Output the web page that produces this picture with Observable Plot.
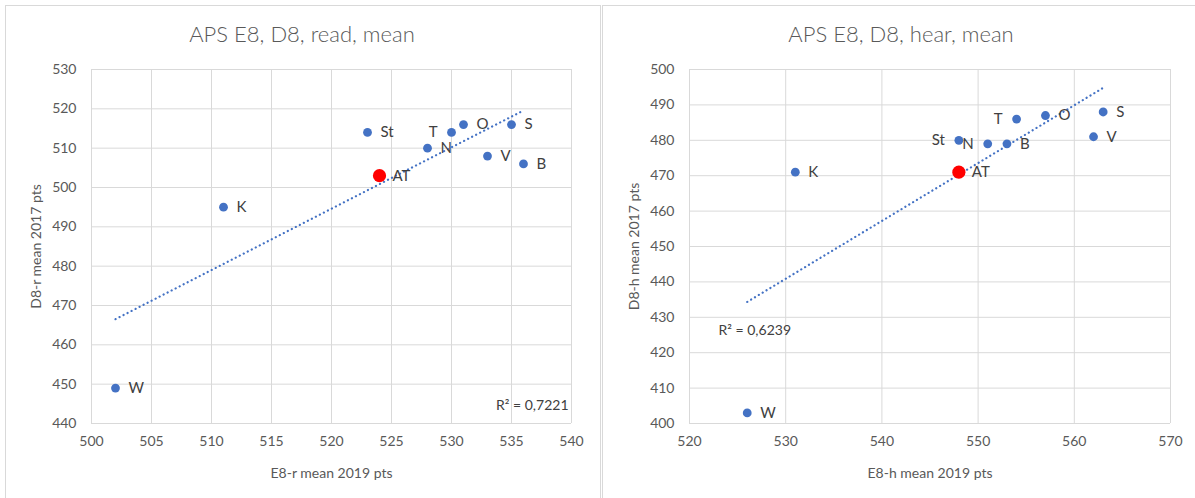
<!DOCTYPE html>
<html>
<head>
<meta charset="utf-8">
<script src="https://cdn.jsdelivr.net/npm/d3@7"></script>
<script src="https://cdn.jsdelivr.net/npm/@observablehq/plot@0.6"></script>
<style>
  html, body { margin: 0; padding: 0; background: #fff; }
  #root { position: relative; width: 1195px; height: 498px; overflow: hidden; font-family: Lato, "Open Sans", sans-serif; }
  .panel { position: absolute; top: 5px; height: 520px; border: 1px solid #d9d9d9; box-sizing: border-box; }
  .title { position: absolute; top: 20px; font-size: 22px; color: #595959; transform: translateX(-50%); white-space: nowrap; font-weight: 300; }
  .chart { position: absolute; top: 0; }
</style>
</head>
<body>
<div id="root">
  <div class="panel" style="left:5px; width:596px;"></div>
  <div class="panel" style="left:602px; width:600px;"></div>
  <div class="title" style="left:302px;">APS E8, D8, read, mean</div>
  <div class="title" style="left:901px;">APS E8, D8, hear, mean</div>
  <div class="chart" id="left" style="left:0px;"></div>
  <div class="chart" id="right" style="left:598px;"></div>
</div>
<script>
// ---- data ----
const regions      = ["St", "N", "T", "O", "S", "V", "B", "K", "W", "AT"];
const readE8_2019  = [523, 528, 530, 531, 535, 533, 536, 511, 502, 524];
const readD8_2017  = [514, 510, 514, 516, 516, 508, 506, 495, 449, 503];
const hearE8_2019  = [548, 551, 554, 557, 563, 562, 553, 531, 526, 548];
const hearD8_2017  = [480, 479, 486, 487, 488, 481, 479, 471, 403, 471];
const totalRegion  = "AT";

const readXTicks = [500, 505, 510, 515, 520, 525, 530, 535, 540];
const readYTicks = [440, 450, 460, 470, 480, 490, 500, 510, 520, 530];
const hearXTicks = [520, 530, 540, 550, 560, 570];
const hearYTicks = [400, 410, 420, 430, 440, 450, 460, 470, 480, 490, 500];

const readLabelsLeft = ["T"];
const hearLabelsLeft = ["St", "N", "T"];

const readR2 = "R² = 0,7221";
const hearR2 = "R² = 0,6239";
const readXLabel = "E8-r mean 2019 pts";
const readYLabel = "D8-r mean 2017 pts";
const hearXLabel = "E8-h mean 2019 pts";
const hearYLabel = "D8-h mean 2017 pts";

// ---- drawing ----
const BLUE = "#4472C4";
const RED = "#FF0000";
const GRID = "#d9d9d9";

function chart({xs, ys, xTicks, yTicks, leftLabels, r2, r2Anchor, r2dx, r2dy, xLabel, yLabel, width, marginRight}) {
  const rows = regions.map((r, i) => ({region: r, x: xs[i], y: ys[i]}));
  const states = rows.filter(d => d.region !== totalRegion);
  const total = rows.filter(d => d.region === totalRegion);
  return Plot.plot({
    width, height: 498,
    marginLeft: 91, marginRight, marginTop: 69, marginBottom: 75,
    style: {fontFamily: "Lato, 'Open Sans', sans-serif", fontSize: "14px", color: "#595959", background: "transparent", overflow: "visible"},
    x: {domain: [xTicks[0], xTicks[xTicks.length - 1]], ticks: xTicks},
    y: {domain: [yTicks[0], yTicks[yTicks.length - 1]], ticks: yTicks},
    marks: [
      Plot.gridX(xTicks, {stroke: GRID, strokeOpacity: 1}),
      Plot.gridY(yTicks, {stroke: GRID, strokeOpacity: 1}),
      Plot.axisX(xTicks, {tickSize: 0, tickPadding: 13, fontSize: 14, label: xLabel, labelAnchor: "center", labelArrow: "none", labelOffset: 54}),
      Plot.axisY(yTicks, {tickSize: 0, tickPadding: 15, fontSize: 14, label: yLabel, labelAnchor: "center", labelArrow: "none", labelOffset: 60}),
      Plot.linearRegressionY(states, {x: "x", y: "y", ci: 0, stroke: BLUE, strokeWidth: 2.2, strokeDasharray: "0.1 4.4", strokeLinecap: "round"}),
      Plot.dot(states, {x: "x", y: "y", r: 4.4, fill: BLUE}),
      Plot.dot(total, {x: "x", y: "y", r: 6.6, fill: RED}),
      Plot.text(rows.filter(d => !leftLabels.includes(d.region)), {x: "x", y: "y", text: "region", textAnchor: "start", dx: 13, fill: "#404040", fontSize: 15}),
      Plot.text(rows.filter(d => leftLabels.includes(d.region)), {x: "x", y: "y", text: "region", textAnchor: "end", dx: -14, fill: "#404040", fontSize: 15}),
      Plot.text([r2], {frameAnchor: r2Anchor, dx: r2dx, dy: r2dy, text: d => d, fill: "#404040", fontSize: 14})
    ]
  });
}

document.getElementById("left").append(chart({
  xs: readE8_2019, ys: readD8_2017, xTicks: readXTicks, yTicks: readYTicks,
  leftLabels: readLabelsLeft, r2: readR2, r2Anchor: "bottom-right", r2dx: -3, r2dy: -14,
  xLabel: readXLabel, yLabel: readYLabel, width: 600, marginRight: 29
}));
document.getElementById("right").append(chart({
  xs: hearE8_2019, ys: hearD8_2017, xTicks: hearXTicks, yTicks: hearYTicks,
  leftLabels: hearLabelsLeft, r2: hearR2, r2Anchor: "bottom-left", r2dx: 29, r2dy: -89,
  xLabel: hearXLabel, yLabel: hearYLabel, width: 597, marginRight: 25
}));
</script>
</body>
</html>
